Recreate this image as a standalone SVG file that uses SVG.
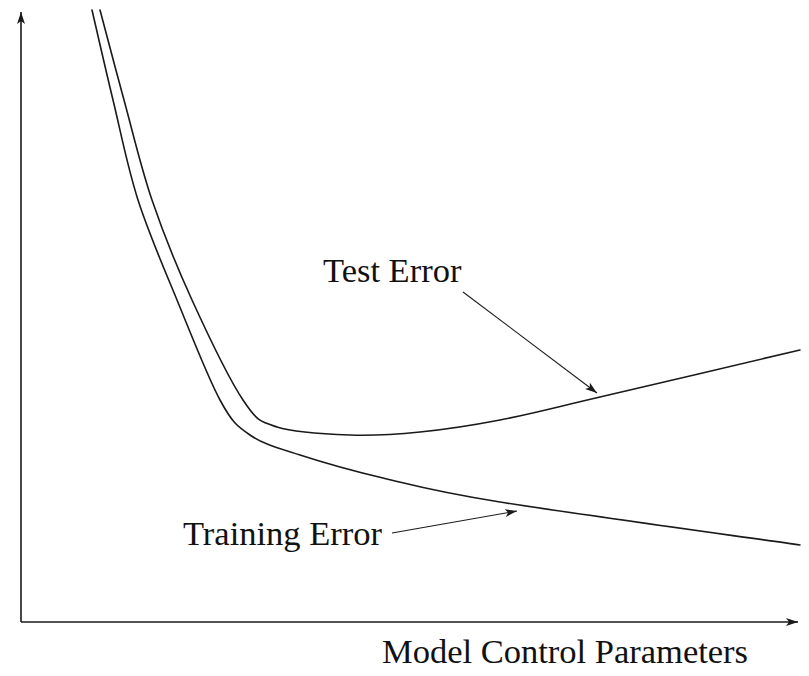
<svg xmlns="http://www.w3.org/2000/svg" width="809" height="676" viewBox="0 0 809 676">
<style>
.curve{fill:none;stroke:#1a1a1a;stroke-width:1.6;stroke-linejoin:round;stroke-linecap:round}
.axis{fill:none;stroke:#1a1a1a;stroke-width:1.6}
.ptr{fill:none;stroke:#1a1a1a;stroke-width:1.1}
.lbl{font-family:"Liberation Serif","Times New Roman",serif;font-size:34.5px;fill:#111}
</style>
<defs>
<marker id="ah" markerUnits="userSpaceOnUse" markerWidth="14" markerHeight="10" refX="12" refY="4" orient="auto">
<path d="M0,0 L12,4 L0,8 L3,4 Z" fill="#1a1a1a"/>
</marker>
</defs>
<rect width="809" height="676" fill="#ffffff"/>
<g id="axes">
<line class="axis" x1="21" y1="622" x2="21" y2="12" marker-end="url(#ah)"/>
<line class="axis" x1="21" y1="622" x2="798" y2="622" marker-end="url(#ah)"/>
</g>
<g id="training-curve">
<path class="curve" d="M92,10 C95.5,25 105.3,68.3 113,100 C120.7,131.7 127.3,166.7 138,200 C148.7,233.3 163.3,266.7 177,300 C190.7,333.3 207.8,377.5 220,400 C232.2,422.5 236.7,425.8 250,435 C263.3,444.2 277.8,447.8 300,455 C322.2,462.2 349.7,470.2 383,478 C416.3,485.8 430.5,490.8 500,502 C569.5,513.2 750,537.8 800,545"/>
</g>
<g id="test-curve">
<path class="curve" d="M100,10 C104,25 115.3,68.3 124,100 C132.7,131.7 140.7,166.7 152,200 C163.3,233.3 176.8,266.7 192,300 C207.2,333.3 228.8,378.8 243,400 C257.2,421.2 259.2,421.2 277,427 C294.8,432.8 326.2,434.2 350,435 C373.8,435.8 395,434.5 420,432 C445,429.5 470,425.8 500,420 C530,414.2 550,408.7 600,397 C650,385.3 766.7,357.8 800,350"/>
</g>
<g id="connectors">
<line class="ptr" x1="463" y1="292" x2="597" y2="393" marker-end="url(#ah)"/>
<line class="ptr" x1="392" y1="533" x2="517" y2="511" marker-end="url(#ah)"/>
</g>
<g id="label-test">
<text class="lbl" x="323" y="282">Test Error</text>
</g>
<g id="label-training">
<text class="lbl" x="183" y="545">Training Error</text>
</g>
<g id="label-x">
<text class="lbl" x="382" y="663">Model Control Parameters</text>
</g>
</svg>
